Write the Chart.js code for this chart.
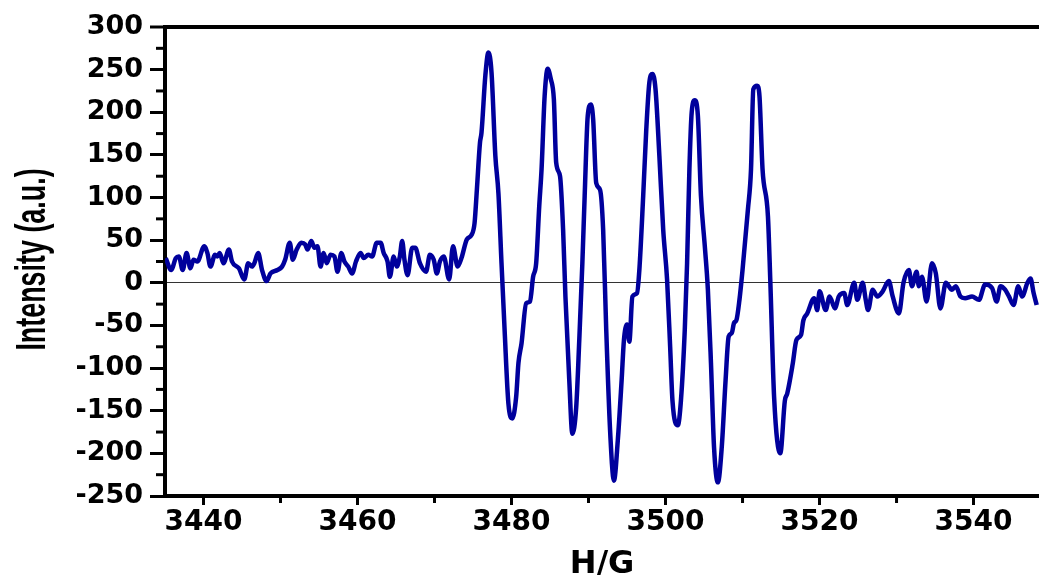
<!DOCTYPE html>
<html>
<head>
<meta charset="utf-8">
<script src="https://cdn.jsdelivr.net/npm/chart.js@4.4.0/dist/chart.umd.min.js"></script>
<style>
  html, body { margin: 0; padding: 0; background: #fff; overflow: hidden; }
  #wrap { width: 1039px; height: 575px; }
</style>
</head>
<body>
<div id="wrap"><canvas id="epr"></canvas></div>
<script>
// magnetic field (G)
const fieldG = [
  3435.1, 3435.8, 3436.4, 3436.8, 3437.3, 3437.8, 3438.3, 3438.7, 3439.2, 3440.1,
  3440.5, 3440.9, 3441.5, 3441.8, 3442.1, 3442.6, 3443.3, 3443.7, 3444.6, 3445.3,
  3445.8, 3446.3, 3446.6, 3447.1, 3447.6, 3448.2, 3448.7, 3449.6, 3450.2, 3450.6,
  3451.2, 3451.6, 3452.1, 3452.7, 3453.2, 3453.5, 3454.0, 3454.4, 3454.8, 3455.2,
  3455.6, 3456.0, 3456.5, 3457.0, 3457.4, 3457.9, 3458.3, 3458.8, 3459.3, 3459.8,
  3460.4, 3460.8, 3461.4, 3461.9, 3462.5, 3463.0, 3463.4, 3463.9, 3464.2, 3464.7,
  3465.1, 3465.5, 3465.8, 3466.1, 3466.5, 3467.1, 3467.5, 3468.1, 3468.9, 3469.4,
  3469.9, 3470.3, 3470.7, 3471.2, 3471.9, 3472.4, 3473.0, 3473.5, 3474.2, 3474.8,
  3475.2, 3475.5, 3475.9, 3476.1, 3476.6, 3477.0, 3477.4, 3477.9, 3478.3, 3478.7,
  3479.1, 3479.6, 3480.1, 3480.6, 3480.9, 3481.3, 3481.9, 3482.4, 3482.8, 3483.2,
  3483.6, 3483.9, 3484.3, 3484.7, 3485.1, 3485.5, 3485.8, 3486.3, 3486.7, 3487.0,
  3487.5, 3487.9, 3488.4, 3488.8, 3489.2, 3489.5, 3489.9, 3490.3, 3490.6, 3491.0,
  3491.5, 3491.9, 3492.3, 3492.8, 3493.3, 3493.8, 3494.3, 3494.6, 3495.0, 3495.3,
  3495.7, 3496.3, 3496.6, 3497.1, 3497.5, 3497.9, 3498.3, 3498.7, 3499.2, 3499.7,
  3500.2, 3500.6, 3500.9, 3501.6, 3502.0, 3502.5, 3502.8, 3503.1, 3503.4, 3503.8,
  3504.2, 3504.6, 3505.1, 3505.5, 3505.9, 3506.3, 3506.8, 3507.3, 3507.8, 3508.2,
  3508.6, 3508.9, 3509.2, 3509.6, 3510.0, 3510.7, 3511.1, 3511.4, 3511.9, 3512.2,
  3512.6, 3513.3, 3513.6, 3514.1, 3514.9, 3515.5, 3515.8, 3516.5, 3517.0, 3517.6,
  3517.9, 3518.4, 3519.3, 3519.7, 3520.0, 3520.8, 3521.3, 3522.0, 3522.5, 3523.2,
  3523.6, 3524.5, 3524.9, 3525.6, 3526.0, 3526.3, 3526.9, 3527.5, 3528.2, 3529.0,
  3529.5, 3530.3, 3530.9, 3531.6, 3532.0, 3532.6, 3532.9, 3533.3, 3533.9, 3534.6,
  3535.1, 3535.7, 3536.4, 3537.2, 3537.7, 3538.3, 3538.9, 3539.8, 3540.7, 3541.5,
  3542.4, 3543.0, 3543.5, 3544.1, 3544.6, 3545.2, 3545.8, 3546.3, 3547.0, 3547.4,
  3547.8, 3548.2
];

// EPR signal intensity (a.u.)
const intensity = [
  29, 15, 29, 31, 15, 35, 17, 27, 25, 43,
  35, 19, 33, 31, 35, 23, 39, 25, 17, 4,
  23, 19, 23, 35, 15, 2, 11, 15, 19, 27,
  47, 27, 39, 47, 45, 39, 49, 41, 43, 19,
  35, 23, 33, 31, 13, 35, 25, 19, 11, 25,
  35, 29, 33, 31, 47, 47, 35, 25, 7, 31,
  19, 31, 49, 27, 9, 41, 41, 23, 13, 33,
  27, 11, 25, 31, 4, 43, 19, 29, 51, 56,
  70, 109, 164, 176, 243, 270, 247, 149, 105, 23,
  -55, -142, -159, -134, -94, -71, -24, -22, 7, 23,
  90, 133, 219, 251, 239, 215, 141, 125, 62, -16,
  -114, -177, -146, -67, 23, 102, 196, 209, 192, 117,
  109, 62, -55, -173, -232, -185, -114, -67, -49, -69,
  -16, -12, 15, 102, 180, 235, 245, 227, 149, 62,
  4, -75, -138, -167, -138, -55, 23, 133, 200, 214,
  196, 102, 43, -8, -94, -193, -234, -193, -114, -63,
  -59, -47, -44, -20, 15, 86, 133, 227, 231, 219,
  133, 78, 4, -134, -200, -138, -130, -96, -67, -61,
  -44, -36, -18, -32, -10, -32, -16, -30, -16, -12,
  -26, 0, -20, 0, -20, -32, -8, -16, -10, 2,
  -16, -36, 0, 15, -4, 13, -4, 7, -22, 23,
  11, -30, 0, -8, -4, -16, -18, -16, -20, -2,
  -6, -22, -4, -8, -16, -26, -4, -16, 0, 5,
  -12, -26
];

const xTicks = [3440, 3460, 3480, 3500, 3520, 3540];
const xMinor = [3450, 3470, 3490, 3510, 3530];
const yTicks = [-250, -200, -150, -100, -50, 0, 50, 100, 150, 200, 250, 300];
const yMinor = [-225, -175, -125, -75, -25, 25, 75, 125, 175, 225, 275];
const yTitle = 'Intensity (a.u.)';

const tickFont = { family: 'DejaVu Sans', weight: 'bold', size: 27 };

// short ticks between the labelled ones, and the narrow y title
const extras = {
  id: 'extras',
  afterDraw(chart) {
    const { ctx, chartArea, scales: { x, y } } = chart;
    ctx.save();
    ctx.strokeStyle = '#000';
    ctx.lineWidth = 3;
    xMinor.forEach(v => {
      const px = x.getPixelForValue(v);
      ctx.beginPath();
      ctx.moveTo(px, x.top);
      ctx.lineTo(px, x.top + 7);
      ctx.stroke();
    });
    yMinor.forEach(v => {
      const py = y.getPixelForValue(v);
      ctx.beginPath();
      ctx.moveTo(y.right - 9, py);
      ctx.lineTo(y.right, py);
      ctx.stroke();
    });
    ctx.restore();

    ctx.save();
    ctx.translate(45, (chartArea.top + chartArea.bottom) / 2 - 2);
    ctx.rotate(-Math.PI / 2);
    ctx.scale(0.64, 1);
    ctx.font = 'bold 42px "Liberation Sans", Arial, sans-serif';
    ctx.fillStyle = '#000';
    ctx.textAlign = 'center';
    ctx.textBaseline = 'alphabetic';
    ctx.fillText(yTitle, 0, 0);
    ctx.restore();
  }
};

new Chart(document.getElementById('epr'), {
  type: 'line',
  data: {
    datasets: [{
      data: fieldG.map((g, i) => ({ x: g, y: intensity[i] })),
      borderColor: '#00009c',
      borderWidth: 4.5,
      pointRadius: 0,
      cubicInterpolationMode: 'monotone',
      fill: false
    }]
  },
  options: {
    responsive: true,
    maintainAspectRatio: false,
    animation: false,
    devicePixelRatio: 1,
    layout: { padding: { top: 27, right: 0, left: 0, bottom: 0 } },
    plugins: { legend: { display: false }, tooltip: { enabled: false } },
    scales: {
      x: {
        type: 'linear',
        min: 3435,
        max: 3548.5,
        afterBuildTicks: s => { s.ticks = xTicks.map(v => ({ value: v })); },
        afterFit: s => { s.height = 79; },
        border: { color: '#000', width: 4 },
        grid: { drawOnChartArea: false, tickLength: 9, tickWidth: 3, tickColor: '#000' },
        ticks: {
          font: { family: 'DejaVu Sans', weight: 'bold', size: 28 },
          color: '#000',
          padding: 1,
          maxRotation: 0,
          autoSkip: false,
          callback: v => String(v)
        },
        title: {
          display: true,
          text: 'H/G',
          color: '#000',
          font: { family: 'DejaVu Sans', weight: 'bold', size: 32, lineHeight: 1 },
          padding: { top: 0, bottom: -6 }
        }
      },
      y: {
        min: -250,
        max: 300,
        afterBuildTicks: s => { s.ticks = yTicks.map(v => ({ value: v })); },
        afterFit: s => { s.width = 165; },
        border: { color: '#000', width: 4 },
        grid: {
          color: c => c.tick && c.tick.value === 300 ? '#000' : (c.tick && c.tick.value === 0 ? '#333' : 'rgba(0,0,0,0)'),
          lineWidth: c => c.tick && c.tick.value === 300 ? 4 : 1,
          tickLength: 15,
          tickWidth: 3,
          tickColor: '#000'
        },
        ticks: { font: tickFont, color: '#000', padding: 7 }
      }
    }
  },
  plugins: [extras]
});
</script>
</body>
</html>
